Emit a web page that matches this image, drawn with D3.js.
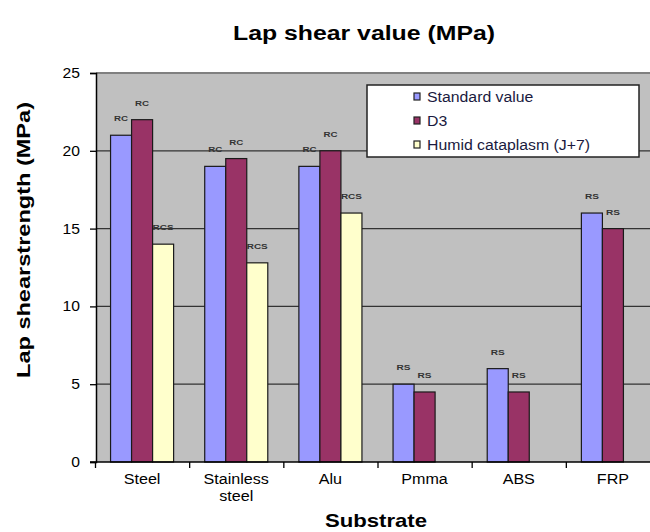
<!DOCTYPE html>
<html>
<head>
<meta charset="utf-8">
<script src="https://cdn.jsdelivr.net/npm/d3@7"></script>
<style>
  html, body { margin: 0; padding: 0; background: #fff; }
  svg { display: block; font-family: Arial, "Liberation Sans", sans-serif; }
</style>
</head>
<body>
<svg id="chart" width="650" height="532"></svg>
<script>
// Substrates tested
const categories = ["Steel", "Stainless steel", "Alu", "Pmma", "ABS", "FRP"];
// Series names (legend order)
const seriesNames = ["Standard value", "D3", "Humid cataplasm (J+7)"];
// Lap shear strength per series, MPa (null = not tested)
const standardValues = [21, 19, 19, 5, 6, 16];
const d3Values = [22, 19.5, 20, 4.5, 4.5, 15];
const humidValues = [14, 12.8, 16, null, null, null];
// Failure-mode labels shown above each bar
const standardLabels = ["RC", "RC", "RC", "RS", "RS", "RS"];
const d3Labels = ["RC", "RC", "RC", "RS", "RS", "RS"];
const humidLabels = ["RCS", "RCS", "RCS", null, null, null];
// Y axis ticks
const yTicks = [0, 5, 10, 15, 20, 25];

const seriesValues = [standardValues, d3Values, humidValues];
const seriesLabels = [standardLabels, d3Labels, humidLabels];
const colors = ["#9999ff", "#993366", "#ffffcc"];

const svg = d3.select("#chart");

// Stretch a text node horizontally by a factor of its natural width
function widen(sel, factor) {
  sel.each(function() {
    const n = this;
    const w = n.getComputedTextLength();
    if (w > 0) {
      d3.select(n).attr("textLength", w * factor).attr("lengthAdjust", "spacingAndGlyphs");
    }
  });
}

const plot = { left: 96, right: 660, top: 73, bottom: 462 };

const x0 = d3.scaleBand().domain(categories).range([plot.left - 1, plot.right]).paddingInner(0).paddingOuter(0);
const x1 = d3.scaleBand().domain(d3.range(3)).range([0, x0.bandwidth()]).paddingInner(0).paddingOuter(0.74);
const y = d3.scaleLinear().domain([0, 25]).range([plot.bottom, plot.top]);

// Plot background
svg.append("rect")
  .attr("x", plot.left).attr("y", plot.top)
  .attr("width", plot.right - plot.left).attr("height", plot.bottom - plot.top)
  .attr("fill", "#c0c0c0");

// Top border of plot area
svg.append("line")
  .attr("x1", plot.left).attr("x2", plot.right)
  .attr("y1", plot.top).attr("y2", plot.top)
  .attr("stroke", "#808080").attr("stroke-width", 2);

// Gridlines
svg.append("g")
  .selectAll("line")
  .data(yTicks.filter(t => t > 0 && t < 25))
  .join("line")
  .attr("x1", plot.left).attr("x2", plot.right)
  .attr("y1", d => y(d)).attr("y2", d => y(d))
  .attr("stroke", "#333").attr("stroke-width", 1.2);

// Bars
const groups = svg.append("g").selectAll("g")
  .data(categories)
  .join("g")
  .attr("transform", d => `translate(${x0(d)},0)`);

groups.each(function(cat, ci) {
  const g = d3.select(this);
  seriesValues.forEach((vals, si) => {
    const v = vals[ci];
    if (v == null) return;
    g.append("rect")
      .attr("x", x1(si))
      .attr("y", y(v))
      .attr("width", x1.bandwidth())
      .attr("height", y(0) - y(v))
      .attr("fill", colors[si])
      .attr("stroke", "#1a1a1a")
      .attr("stroke-width", 1.2);
    const lab = seriesLabels[si][ci];
    if (lab) {
      g.append("text")
        .attr("x", x1(si) + x1.bandwidth() / 2)
        .attr("y", y(v) - 14)
        .attr("text-anchor", "middle")
        .attr("font-size", 8)
        .attr("font-weight", "bold")
        .attr("fill", "#333")
        .attr("textLength", lab.length === 2 ? 14 : 21)
        .attr("lengthAdjust", "spacingAndGlyphs")
        .text(lab);
    }
  });
});

// Y axis
const yAxis = svg.append("g")
  .attr("transform", `translate(${plot.left},0)`)
  .call(d3.axisLeft(y).tickValues(yTicks).tickSize(6).tickPadding(10).tickFormat(d3.format("d")));
yAxis.select(".domain").attr("stroke", "#000").attr("stroke-width", 1.5);
yAxis.selectAll(".tick line").attr("stroke", "#000").attr("stroke-width", 1.3);
yAxis.selectAll(".tick text")
  .attr("font-size", 14).attr("fill", "#000")
  .attr("font-family", "Arial, 'Liberation Sans', sans-serif")
  .call(widen, 1.12);

// X axis (ticks at category boundaries)
const boundaries = categories.map(c => x0(c)).concat([x0.range()[1]]);
svg.append("line")
  .attr("x1", plot.left - 6).attr("x2", plot.right)
  .attr("y1", plot.bottom).attr("y2", plot.bottom)
  .attr("stroke", "#000").attr("stroke-width", 1.5);
svg.append("g").selectAll("line")
  .data(boundaries)
  .join("line")
  .attr("x1", d => d + 0.5).attr("x2", d => d + 0.5)
  .attr("y1", plot.bottom).attr("y2", plot.bottom + 6)
  .attr("stroke", "#000").attr("stroke-width", 1.3);

// Category labels
svg.append("g").selectAll("text")
  .data(categories)
  .join("text")
  .attr("x", d => x0(d) + x0.bandwidth() / 2)
  .attr("y", 484)
  .attr("text-anchor", "middle")
  .attr("font-size", 14)
  .attr("fill", "#000")
  .each(function(d) {
    const words = d.split(" ");
    const t = d3.select(this);
    words.forEach((w, i) => {
      t.append("tspan")
        .attr("x", x0(d) + x0.bandwidth() / 2)
        .attr("dy", i === 0 ? 0 : 17)
        .text(w)
        .call(widen, 1.15);
    });
  });

// Chart title
svg.append("text")
  .attr("x", 364).attr("y", 40)
  .attr("text-anchor", "middle")
  .attr("font-size", 20).attr("font-weight", "bold")
  .attr("textLength", 262).attr("lengthAdjust", "spacingAndGlyphs")
  .text("Lap shear value (MPa)");

// X axis title
svg.append("text")
  .attr("x", 376).attr("y", 527)
  .attr("text-anchor", "middle")
  .attr("font-size", 19).attr("font-weight", "bold")
  .attr("textLength", 102).attr("lengthAdjust", "spacingAndGlyphs")
  .text("Substrate");

// Y axis title
svg.append("text")
  .attr("transform", "translate(30,240) rotate(-90)")
  .attr("text-anchor", "middle")
  .attr("font-size", 18).attr("font-weight", "bold")
  .attr("textLength", 276).attr("lengthAdjust", "spacingAndGlyphs")
  .text("Lap shearstrength  (MPa)");

// Legend
const legend = svg.append("g");
legend.append("rect")
  .attr("x", 367).attr("y", 85).attr("width", 272).attr("height", 72)
  .attr("fill", "#fff").attr("stroke", "#222").attr("stroke-width", 1.5);
seriesNames.forEach((name, i) => {
  const ly = 97 + i * 24;
  legend.append("rect")
    .attr("x", 414).attr("y", ly - 4).attr("width", 6).attr("height", 7)
    .attr("fill", colors[i]).attr("stroke", "#222").attr("stroke-width", 1.2);
  legend.append("text")
    .attr("x", 427).attr("y", ly + 5)
    .attr("font-size", 14).attr("fill", "#1a1a40")
    .text(name)
    .call(widen, 1.13);
});
</script>
</body>
</html>
